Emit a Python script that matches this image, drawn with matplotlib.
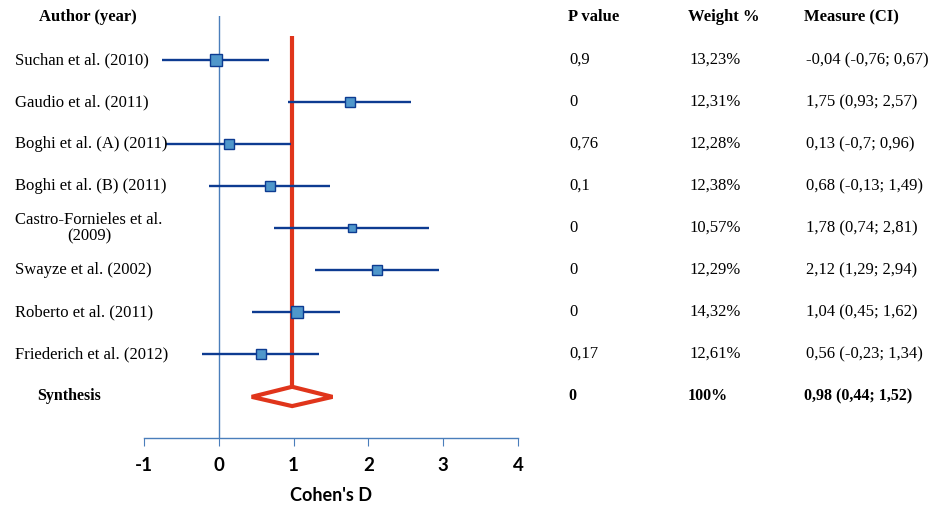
import matplotlib.pyplot as plt
from matplotlib.transforms import blended_transform_factory
from matplotlib.patches import Polygon

plt.rcParams['axes.unicode_minus'] = False

authors = ['Suchan et al. (2010)', 'Gaudio et al. (2011)', 'Boghi et al. (A) (2011)',
           'Boghi et al. (B) (2011)', 'Castro-Fornieles et al.\n(2009)', 'Swayze et al. (2002)',
           'Roberto et al. (2011)', 'Friederich et al. (2012)']
estimates = [-0.04, 1.75, 0.13, 0.68, 1.78, 2.12, 1.04, 0.56]
ci_low = [-0.76, 0.93, -0.7, -0.13, 0.74, 1.29, 0.45, -0.23]
ci_high = [0.67, 2.57, 0.96, 1.49, 2.81, 2.94, 1.62, 1.34]
weights = [13.23, 12.31, 12.28, 12.38, 10.57, 12.29, 14.32, 12.61]
p_values = ['0,9', '0', '0,76', '0,1', '0', '0', '0', '0,17']
weight_labels = ['13,23%', '12,31%', '12,28%', '12,38%', '10,57%', '12,29%', '14,32%', '12,61%']
measure_labels = ['-0,04 (-0,76; 0,67)', '1,75 (0,93; 2,57)', '0,13 (-0,7; 0,96)',
                  '0,68 (-0,13; 1,49)', '1,78 (0,74; 2,81)', '2,12 (1,29; 2,94)',
                  '1,04 (0,45; 1,62)', '0,56 (-0,23; 1,34)']
synth_est, synth_low, synth_high = 0.98, 0.44, 1.52
synth_p, synth_w, synth_m = '0', '100%', '0,98 (0,44; 1,52)'
headers = ['Author (year)', 'P value', 'Weight %', 'Measure (CI)']

W, H = 934, 509
fig = plt.figure(figsize=(W / 100, H / 100), dpi=100)
ax = fig.add_axes([144 / W, (H - 438) / H, 374 / W, (438 - 16) / H])
ax.set_xlim(-1, 4)
ax.set_ylim(9, -1.05)

line_col = '#0d3b91'
face_col = '#4f97cb'
axis_col = '#4a7ebb'
red = '#e0351b'

ax.axvline(0, color=axis_col, lw=1, zorder=1)

# red synthesis line + diamond
ax.plot([synth_est, synth_est], [-0.57, 8 - 0.2], color=red, lw=3, zorder=2, solid_capstyle='butt')
diamond = Polygon([[synth_low, 8.02], [synth_est, 8 - 0.22], [synth_high, 8.02], [synth_est, 8 + 0.24]],
                  closed=True, facecolor='white', edgecolor=red, lw=3, zorder=3)
ax.add_patch(diamond)

for i in range(len(authors)):
    ax.plot([ci_low[i], ci_high[i]], [i, i], color=line_col, lw=1.7, zorder=3, solid_capstyle='butt')
    # square size grows with study weight
    size_px = 9 + 1.3 * (weights[i] - 10.57)
    ax.plot(estimates[i], i, marker='s', ms=(size_px - 1) * 0.72, mfc=face_col, mec=line_col,
            mew=1, zorder=4)

for s in ['left', 'right', 'top']:
    ax.spines[s].set_visible(False)
ax.spines['bottom'].set_color(axis_col)
ax.spines['bottom'].set_linewidth(1)
ax.set_yticks([])
ax.set_xticks([-1, 0, 1, 2, 3, 4])
ax.tick_params(axis='x', direction='out', length=6, color=axis_col, pad=8)
for lbl in ax.get_xticklabels():
    lbl.set_fontfamily('Lato')
    lbl.set_fontweight('bold')
    lbl.set_fontsize(13.5)
ax.set_xlabel("Cohen's D", fontfamily='Lato', fontweight='bold', fontsize=13, labelpad=9)

tr = blended_transform_factory(fig.transFigure, ax.transData)
serif = 'Liberation Serif'

ax.text(88 / W, -1.02, headers[0], transform=tr, ha='center', va='center', fontfamily=serif,
        fontweight='bold', fontsize=12)
col_x = [568 / W, 688 / W, 804 / W]
for x, h in zip(col_x, headers[1:]):
    ax.text(x, -1.02, h, transform=tr, ha='left', va='center', fontfamily=serif,
            fontweight='bold', fontsize=12)

for i, a in enumerate(authors):
    if '\n' in a:
        ax.text(89 / W, i, a, transform=tr, ha='center', va='center', fontfamily=serif,
                fontsize=12, linespacing=1.05)
    else:
        ax.text(15 / W, i, a, transform=tr, ha='left', va='center', fontfamily=serif, fontsize=12)
    for x, t in zip(col_x, [p_values[i], weight_labels[i], measure_labels[i]]):
        ax.text(x + 1.5 / W, i, t, transform=tr, ha='left', va='center', fontfamily=serif, fontsize=12)

ax.text(37 / W, 8, 'Synthesis', transform=tr, ha='left', va='center', fontfamily=serif,
        fontweight='bold', fontsize=11.5)
for x, t in zip(col_x, [synth_p, synth_w, synth_m]):
    ax.text(x, 8, t, transform=tr, ha='left', va='center', fontfamily=serif, fontweight='bold', fontsize=11.5)

fig.savefig('out.png', dpi=100, facecolor='white')
